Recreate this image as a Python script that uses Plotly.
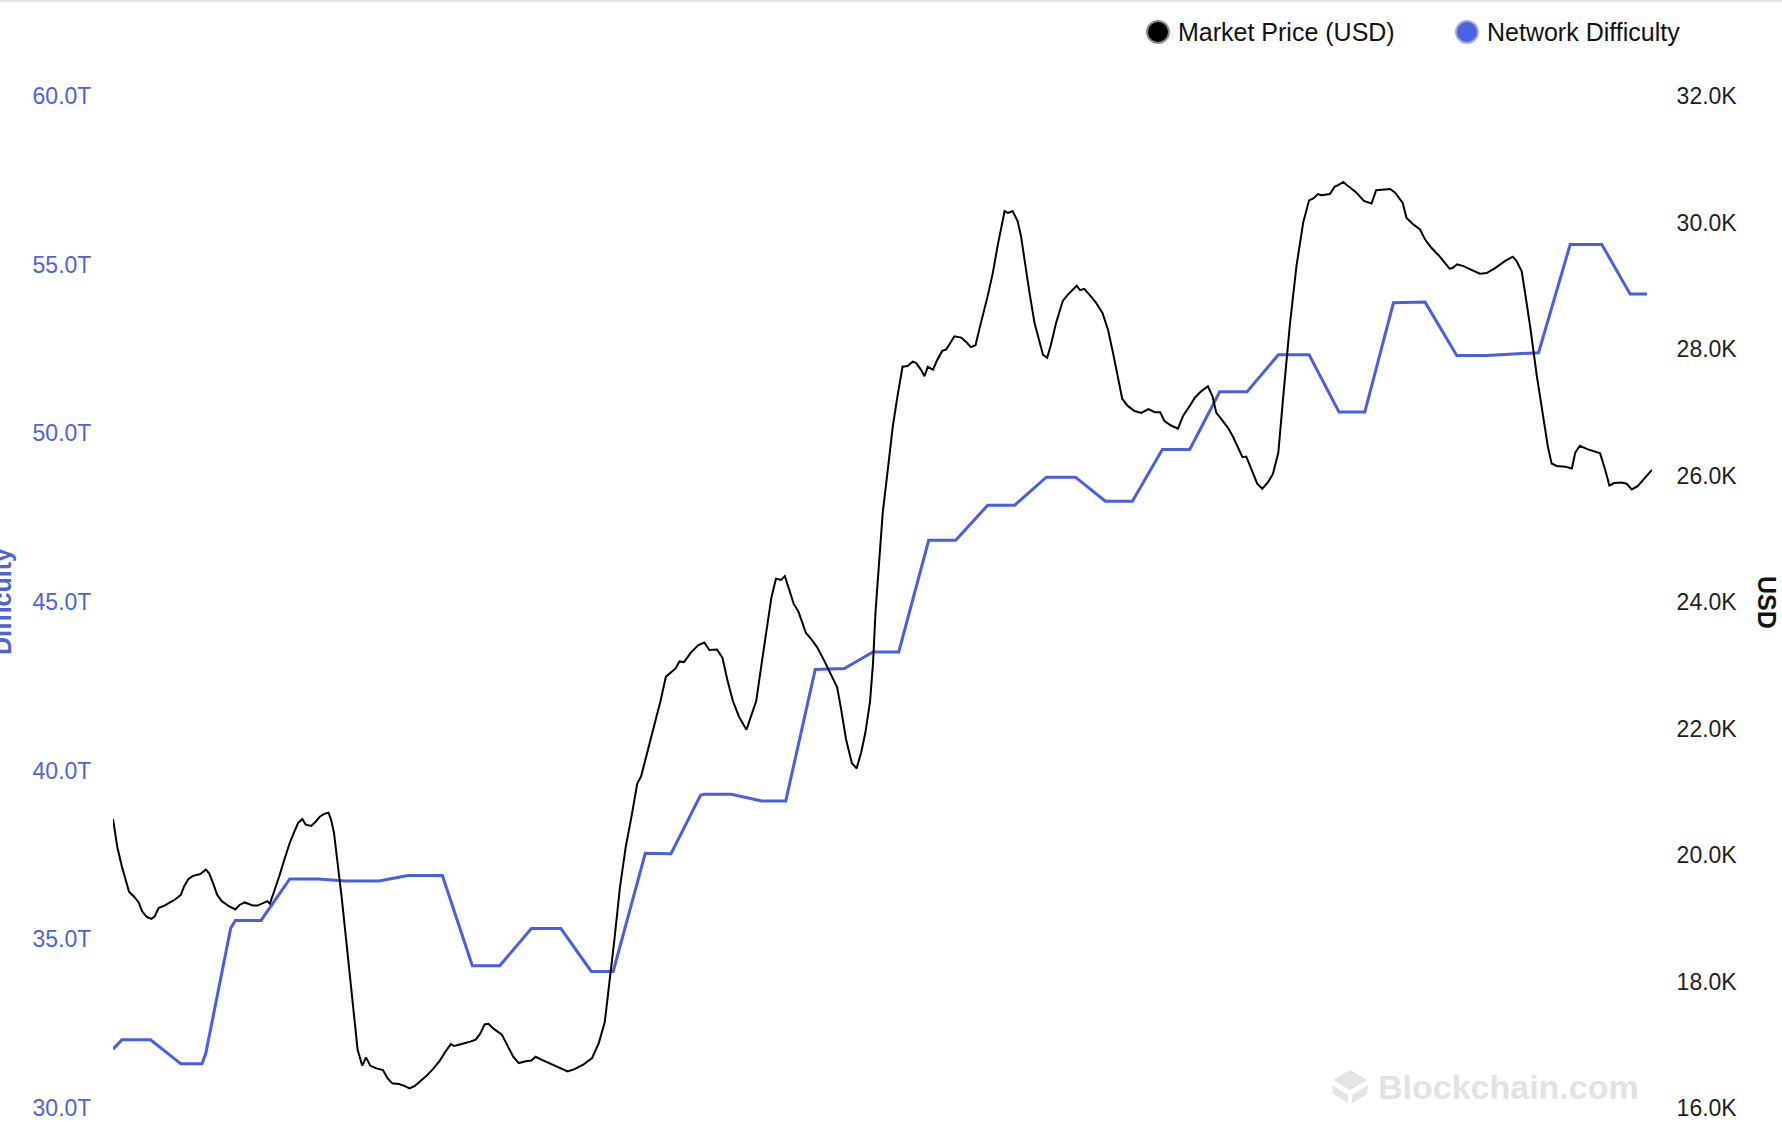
import pandas as pd
import plotly.graph_objects as go

START = pd.Timestamp("2022-09-06")

# Market price (thousand USD) at day offsets from START
price_day = [
    0.2, 1.2, 2.3, 4.0, 5.2, 6.3, 7.1, 8.2, 9.3, 10.1, 11.0, 12.4, 15.0, 16.3, 17.1, 18.1, 19.2, 20.9,
    22.2, 23.0, 23.9, 24.9, 26.0, 27.7, 29.2, 30.2, 31.4, 32.4, 33.4, 34.5, 35.8, 36.8, 37.4, 38.3,
    39.6, 40.8, 42.1, 43.2, 44.1, 45.1, 45.9, 47.2, 48.3, 49.3, 50.3, 51.3, 51.9, 52.6, 53.4, 54.4,
    55.4, 56.5, 57.6, 58.2, 59.3, 60.2, 61.2, 62.5, 64.2, 65.3, 66.4, 68.0, 69.3, 70.5, 71.8, 73.1,
    74.4, 76.0, 77.7, 79.0, 80.3, 81.1, 82.0, 83.3, 84.9, 86.2, 87.3, 88.3, 89.2, 90.5, 92.4, 93.8,
    95.1, 96.4, 98.1, 99.4, 100.4, 101.9, 104.0, 106.1, 108.0, 109.5, 111.6, 113.8, 115.4,
    116.8, 117.7, 119.1, 120.4, 121.8, 123.2, 124.5, 125.4, 127.3, 129.1, 130.0, 131.3, 132.7, 133.6,
    134.5, 135.6, 137.2, 139.0, 140.4, 141.6, 143.4, 144.7, 145.9, 147.2, 148.6, 150.4, 151.3, 152.7,
    154.0, 155.4, 156.3, 157.4, 158.6, 159.5, 160.4, 161.6, 162.7, 164.5, 165.9, 167.2, 169.0, 171.0,
    171.9, 172.8, 174.0, 175.4, 176.5, 177.6, 178.6, 179.7, 180.4, 181.0,
    182.7, 183.9, 185.1, 186.2, 187.4, 188.6, 189.8, 190.6, 191.8, 192.6, 193.4, 194.6, 195.5, 196.8,
    197.7, 198.5, 199.7, 201.3, 202.5, 203.6, 204.7, 205.6, 206.4, 207.6, 208.8, 210.0, 211.6, 212.4,
    213.5, 214.7, 215.5, 216.3, 217.5, 218.7, 219.9, 220.7, 221.7, 222.6, 223.8, 225.4, 226.6, 227.6,
    228.7, 229.5, 230.5, 231.7, 233.3, 234.8, 236.1, 237.3, 238.5, 239.5, 240.8, 242.4, 244.0, 245.7,
    247.2, 248.5, 249.5, 251.1, 252.7, 253.9, 255.5, 256.7, 258.2, 259.8, 260.9, 261.8, 263.0, 264.6,
    265.7, 266.9, 268.0, 268.9, 270.1, 271.5, 272.7, 274.1, 275.2, 276.5,
    277.6, 279.2, 280.8, 282.4, 283.8, 284.8, 285.9, 286.7, 288.7, 289.9, 290.7, 291.9, 292.8, 294.9,
    296.8, 298.6, 299.7, 301.4, 303.0, 304.2, 306.0, 306.9, 308.5, 310.1, 311.3, 312.8, 314.8, 317.1,
    317.8, 318.9, 320.4, 322.3, 324.3, 325.9, 327.9, 330.2, 332.1, 333.0, 334.2, 335.0, 336.2, 337.8,
    339.4, 340.4, 341.3, 342.5, 344.5, 346.1, 346.9, 348.0, 349.6, 351.2, 352.8, 354.0, 355.0, 356.1,
    357.9, 359.1, 360.3, 361.7, 363.1, 365.1,
]
price_k = [
    20.57, 20.13, 19.82, 19.42, 19.34, 19.25, 19.11, 19.02, 18.99, 19.03, 19.16, 19.20, 19.30, 19.37,
    19.51, 19.62, 19.67, 19.70, 19.77, 19.71, 19.56, 19.37, 19.27, 19.19, 19.14, 19.21, 19.25, 19.23,
    19.20, 19.20, 19.24, 19.27, 19.23, 19.40, 19.66, 19.92, 20.19, 20.37, 20.51, 20.57, 20.48, 20.46,
    20.53, 20.61, 20.65, 20.67, 20.56, 20.35, 19.92, 19.34, 18.71, 18.03, 17.34, 16.92, 16.67, 16.80,
    16.67, 16.63, 16.60, 16.47, 16.39, 16.38, 16.35, 16.31, 16.35, 16.42, 16.50, 16.61, 16.75, 16.89,
    17.01, 16.98, 17.00, 17.02, 17.05, 17.08, 17.18, 17.32, 17.33, 17.25, 17.16, 16.97, 16.81, 16.71,
    16.74, 16.75, 16.81, 16.76, 16.70, 16.63, 16.58, 16.61, 16.68, 16.79, 17.03,
    17.36, 17.85, 18.67, 19.49, 20.14, 20.63, 21.13, 21.24, 21.73, 22.16, 22.43, 22.82, 22.90, 22.95,
    23.06, 23.05, 23.20, 23.32, 23.36, 23.24, 23.25, 23.12, 22.76, 22.43, 22.19, 21.98, 22.16, 22.43,
    23.03, 23.64, 24.07, 24.37, 24.35, 24.41, 24.21, 23.97, 23.85, 23.51, 23.40, 23.28, 23.05, 22.76,
    22.65, 22.32, 21.83, 21.45, 21.37, 21.62, 21.94, 22.43, 23.03, 23.85,
    25.41, 26.09, 26.78, 27.25, 27.72, 27.73, 27.80, 27.78, 27.67, 27.57, 27.72, 27.67, 27.81, 27.97,
    27.99, 28.07, 28.20, 28.18, 28.11, 28.03, 28.06, 28.31, 28.52, 28.84, 29.20, 29.65, 30.18, 30.15,
    30.18, 30.02, 29.78, 29.41, 28.89, 28.41, 28.10, 27.91, 27.86, 28.07, 28.41, 28.76, 28.86, 28.92,
    29.00, 28.93, 28.95, 28.86, 28.73, 28.57, 28.31, 27.94, 27.52, 27.21, 27.10, 27.02, 26.99, 27.05,
    27.00, 27.00, 26.86, 26.79, 26.74, 26.94, 27.10, 27.23, 27.33, 27.41, 27.25, 26.99, 26.89, 26.75,
    26.62, 26.46, 26.29, 26.30, 26.09, 25.87, 25.79, 25.90, 26.02, 26.36,
    27.20, 28.36, 29.31, 30.00, 30.35, 30.38, 30.45, 30.43, 30.45, 30.57, 30.59, 30.64, 30.59, 30.48,
    30.34, 30.30, 30.51, 30.52, 30.53, 30.47, 30.31, 30.07, 29.97, 29.89, 29.73, 29.60, 29.46, 29.27,
    29.28, 29.34, 29.31, 29.25, 29.19, 29.20, 29.28, 29.39, 29.46, 29.39, 29.23, 28.89, 28.36, 27.57,
    26.89, 26.46, 26.19, 26.15, 26.14, 26.11, 26.36, 26.47, 26.42, 26.38, 26.35, 26.09, 25.84, 25.88,
    25.89, 25.87, 25.78, 25.83, 25.93, 26.09,
]

# Network difficulty (trillions), corner points
diff_day = [
    0.2, 2.3, 9.1, 16.3, 21.3, 22.2, 28.1, 29.2, 35.3, 42.1, 48.9, 55.3, 63.3, 70.1, 78.3, 85.4,
    91.9, 99.4, 106.4, 113.6, 118.8, 126.4, 132.5, 139.5, 140.4, 146.8, 154.0, 159.7, 166.7, 173.6,
    180.4, 186.5, 193.6, 200.0, 207.6, 214.0, 221.5, 228.4, 235.5, 241.9, 249.0, 255.5, 262.6, 269.1,
    276.5, 283.8, 290.9, 297.0, 303.8, 311.3, 318.8, 325.9, 338.2, 345.7, 353.2, 359.9, 363.9,
]
diff_t = [
    31.74, 32.02, 32.02, 31.31, 31.31, 31.62, 35.33, 35.56, 35.56, 36.79, 36.79, 36.73, 36.73, 36.89,
    36.89, 34.22, 34.22, 35.32, 35.32, 34.05, 34.05, 37.55, 37.54, 39.27, 39.30, 39.30, 39.10, 39.10,
    43.00, 43.03, 43.52, 43.52, 46.83, 46.83, 47.87, 47.87, 48.70, 48.70, 47.99, 47.99, 49.52, 49.52,
    51.23, 51.23, 52.33, 52.33, 50.63, 50.63, 53.87, 53.89, 52.31, 52.31, 52.39, 55.60, 55.60, 54.13,
    54.13,
]

diff_ticks = [30, 35, 40, 45, 50, 55, 60]
price_ticks = [16, 18, 20, 22, 24, 26, 28, 30, 32]
diff_ticktext = [f"{v:.1f}T" for v in diff_ticks]
price_ticktext = [f"{v:.1f}K" for v in price_ticks]

series_names = ["Market Price (USD)", "Network Difficulty"]

assert len(price_day) == len(price_k)
assert len(diff_day) == len(diff_t)

# ---------------- styling ----------------
W, H = 1782, 1122
ML, MR, MT, MB = 113, 130, 96, 14
PW, PH = W - ML - MR, H - MT - MB
FONT = "Liberation Sans, Arial, Helvetica, sans-serif"
BLUE = "#4a5fe0"
BLUE_TXT = "#4f63d6"


def px_x(px):
    return (px - ML) / PW


def px_y(py):
    return (H - MB - py) / PH


price_x = [START + pd.Timedelta(days=d) for d in price_day]
diff_x = [START + pd.Timedelta(days=d) for d in diff_day]

fig = go.Figure()
fig.add_trace(go.Scatter(
    x=diff_x, y=diff_t, mode="lines", name=series_names[1], yaxis="y",
    line=dict(color=BLUE, width=3), showlegend=False, hoverinfo="skip"))
fig.add_trace(go.Scatter(
    x=price_x, y=[v * 1000 for v in price_k], mode="lines", name=series_names[0], yaxis="y2",
    line=dict(color="#000000", width=2), showlegend=False, hoverinfo="skip"))

tick_common = dict(showgrid=False, zeroline=False, showline=False, ticks="outside",
                   tickcolor="rgba(0,0,0,0)", automargin=False, fixedrange=True)

fig.update_layout(
    width=W, height=H,
    margin=dict(l=ML, r=MR, t=MT, b=MB, autoexpand=False),
    paper_bgcolor="white", plot_bgcolor="white",
    showlegend=False,
    font=dict(family=FONT),
    xaxis=dict(type="date", range=[price_x[0], price_x[-1]], visible=False, fixedrange=True),
    yaxis=dict(range=[diff_ticks[0], diff_ticks[-1]], tickvals=diff_ticks, ticktext=diff_ticktext,
               ticklen=16, tickfont=dict(family=FONT, size=23, color=BLUE_TXT), **tick_common),
    yaxis2=dict(range=[price_ticks[0] * 1000, price_ticks[-1] * 1000], overlaying="y", side="right",
                tickvals=[v * 1000 for v in price_ticks], ticktext=price_ticktext,
                ticklen=19, tickfont=dict(family=FONT, size=23, color="#1e1e1e"), **tick_common),
)

shapes = [
    # thin top border
    dict(type="line", xref="paper", yref="paper", x0=px_x(0), x1=px_x(W), y0=px_y(1), y1=px_y(1),
         line=dict(color="#e4e4e4", width=2)),
    # legend markers
    dict(type="circle", xref="paper", yref="paper", xsizemode="pixel", ysizemode="pixel",
         xanchor=px_x(1158), yanchor=px_y(32), x0=-11, x1=11, y0=-11, y1=11,
         fillcolor="#000000", line=dict(color="#8a8a8a", width=2)),
    dict(type="circle", xref="paper", yref="paper", xsizemode="pixel", ysizemode="pixel",
         xanchor=px_x(1467), yanchor=px_y(32), x0=-11, x1=11, y0=-11, y1=11,
         fillcolor="#4a62e6", line=dict(color="#a3abd4", width=2)),
    # watermark logo
    dict(type="path", xref="paper", yref="paper", xsizemode="pixel", ysizemode="pixel",
         xanchor=px_x(1350), yanchor=px_y(1086),
         path="M0,16 L17,6 L0,-4 L-17,6 Z M-18,1 L-2,-9 L-2,-17 L-17,-8 Z M18,1 L2,-9 L2,-17 L17,-8 Z",
         fillcolor="#e4e4e4", line=dict(width=0)),
]

annotations = [
    dict(text="<b>Difficulty</b>", x=px_x(2), y=0.5, xref="paper", yref="paper", textangle=-90,
         showarrow=False, xanchor="center", yanchor="middle",
         font=dict(family=FONT, size=25, color=BLUE_TXT)),
    dict(text="<b>USD</b>", x=px_x(1767), y=0.5, xref="paper", yref="paper", textangle=90,
         showarrow=False, xanchor="center", yanchor="middle",
         font=dict(family=FONT, size=25, color="#111111")),
    dict(text=series_names[0], x=px_x(1176), y=px_y(32), xref="paper", yref="paper",
         showarrow=False, xanchor="left", yanchor="middle",
         font=dict(family=FONT, size=25, color="#111111")),
    dict(text=series_names[1], x=px_x(1485), y=px_y(32), xref="paper", yref="paper",
         showarrow=False, xanchor="left", yanchor="middle",
         font=dict(family=FONT, size=25, color="#111111")),
    dict(text="<b>Blockchain.com</b>", x=px_x(1376), y=px_y(1087), xref="paper", yref="paper",
         showarrow=False, xanchor="left", yanchor="middle",
         font=dict(family=FONT, size=34, color="#e2e2e2")),
]

fig.update_layout(shapes=shapes, annotations=annotations)

fig.write_html(
    "out.html",
    config={"displayModeBar": False},
    post_script="document.body.style.margin='0';document.body.style.overflow='hidden';",
)
